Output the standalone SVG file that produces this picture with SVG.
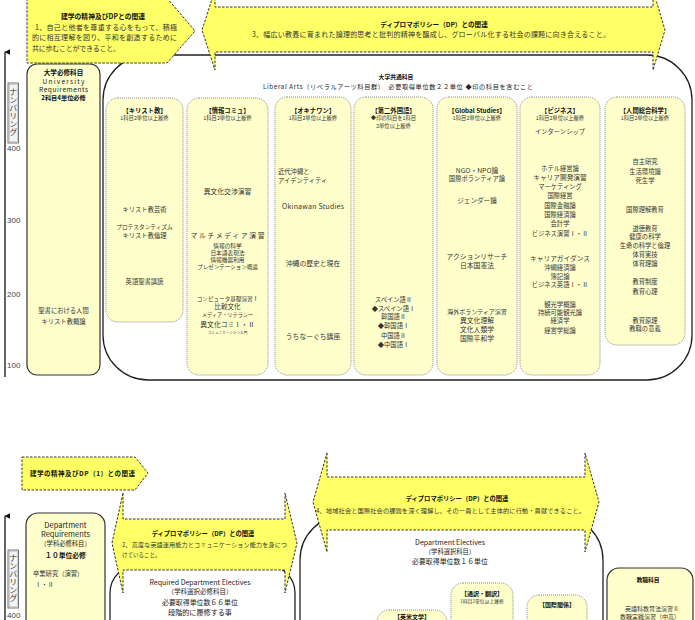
<svg xmlns="http://www.w3.org/2000/svg" width="695" height="620" viewBox="0 0 695 620">
<defs>
<style>
text{font-family:"Noto Sans CJK JP","Noto Sans",sans-serif;fill:#333;}
.c{text-anchor:middle;}
.b{font-weight:bold;fill:#111;}
.t{font-size:6.3px;}
.s{font-size:5.3px;}
.h{font-size:6.3px;font-weight:bold;fill:#111;}
.num{font-family:"Liberation Sans",Arial,sans-serif;font-size:8px;fill:#444;}
.arrow{fill:#FFFF66;stroke:#333;stroke-width:1;stroke-dasharray:2.5,1.5;}
.col{fill:#FFFFCC;stroke:#888;stroke-width:1;stroke-dasharray:1,1;}
.box{fill:#FFFFCC;stroke:#333;stroke-width:1.2;}
.cont{fill:none;stroke:#222;stroke-width:1.3;}
.axis{stroke:#111;stroke-width:1.3;fill:none;}
</style>
<marker id="ah" viewBox="0 0 10 10" refX="5" refY="1" markerWidth="6" markerHeight="6" orient="auto-start-reverse" markerUnits="userSpaceOnUse">
<path d="M0,10 L5,0 L10,10 Z" fill="#111"/>
</marker>
</defs>
<rect width="695" height="620" fill="#fff"/>

<!-- ===== TOP SECTION ===== -->
<g id="liberal-arts">
<rect class="cont" x="103" y="55" width="589" height="325" rx="45"/>
<text class="c b" x="396" y="79" style="font-size:5.8px">大学共通科目</text>
<text x="263" y="89" style="font-size:6.2px;fill:#222" textLength="270" lengthAdjust="spacing">Liberal Arts（リベラルアーツ科目群）　必要取得単位数２２単位 ◆印の科目を含むこと</text>
</g>

<g id="univ-req">
<rect class="box" x="27" y="64" width="73" height="311" rx="10"/>
<text class="c b" x="63.5" y="75" style="font-size:6.6px">大学必修科目</text>
<text class="c" x="63.5" y="83.5" style="font-size:6.6px;fill:#222" textLength="42" lengthAdjust="spacing">University</text>
<text class="c" x="63.5" y="91.5" style="font-size:6.6px;fill:#222" textLength="49" lengthAdjust="spacing">Requirements</text>
<text class="c b" x="63.5" y="99.5" style="font-size:6.2px">2科目4単位必修</text>
<text class="c t" x="63.5" y="312.5">聖書における人間</text>
<text class="c t" x="63.5" y="323.5">キリスト教概論</text>
</g>

<g id="col-christ">
<rect class="col" x="106" y="98" width="77" height="224" rx="12"/>
<text class="c h" x="144.5" y="112.5">【キリスト教】</text>
<text class="c s" x="144.5" y="120">1科目2単位以上履修</text>
<text class="c t" x="144.5" y="212">キリスト教芸術</text>
<text class="c" x="144.5" y="229" style="font-size:5.7px">プロテスタンティズム</text>
<text class="c t" x="144.5" y="237.5">キリスト教倫理</text>
<text class="c t" x="144.5" y="284">英語聖書講読</text>
</g>

<g id="col-info">
<rect class="col" x="187" y="98" width="81" height="277" rx="12"/>
<text class="c h" x="227.5" y="112.5">【情報コミュ】</text>
<text class="c s" x="227.5" y="120">1科目2単位以上履修</text>
<text class="c" x="227.5" y="193.5" style="font-size:6.8px">異文化交渉演習</text>
<text class="c" x="227.5" y="238" style="font-size:6.8px" textLength="74" lengthAdjust="spacing">マルチメディア演習</text>
<text class="c" x="227.5" y="247.5" style="font-size:5.7px">情報の科学</text>
<text class="c" x="227.5" y="254.7" style="font-size:5.7px">日本語表現法</text>
<text class="c" x="227.5" y="261.9" style="font-size:5.7px">情報機器利用</text>
<text class="c" x="227.5" y="269" style="font-size:5.5px">プレゼンテーション概論</text>
<text class="c" x="227.5" y="300.5" style="font-size:5.6px">コンピュータ基礎演習Ⅰ</text>
<text class="c" x="227.5" y="309" style="font-size:6.6px">比較文化</text>
<text class="c" x="227.5" y="317" style="font-size:5.2px">メディア・リテラシー</text>
<text class="c" x="227.5" y="326.5" style="font-size:6.8px">異文化コミⅠ・Ⅱ</text>
<text class="c" x="227.5" y="334" style="font-size:3.6px">コミュニケーション入門</text>
</g>

<g id="col-okinawa">
<rect class="col" x="275" y="97" width="76" height="278" rx="12"/>
<text class="c h" x="313" y="112.5">【オキナワン】</text>
<text class="c s" x="313" y="120">1科目2単位以上履修</text>
<text class="t" x="278" y="174">近代沖縄と</text>
<text class="t" x="278" y="183">アイデンティティ</text>
<text class="c" x="313" y="209" style="font-size:7px" textLength="62" lengthAdjust="spacing">Okinawan Studies</text>
<text class="c" x="313" y="266" style="font-size:6.8px">沖縄の歴史と現在</text>
<text class="c" x="313" y="339" style="font-size:6.8px">うちなーぐち講座</text>
</g>

<g id="col-lang">
<rect class="col" x="354" y="97" width="79" height="278" rx="12"/>
<text class="c h" x="393.5" y="112.5">【第二外国語】</text>
<text class="c s" x="393.5" y="120">◆印の科目を1科目</text>
<text class="c s" x="393.5" y="127.5">2単位以上履修</text>
<text class="c t" x="393.5" y="301.5">スペイン語Ⅱ</text>
<text class="c t" x="393.5" y="310.5">◆スペイン語Ⅰ</text>
<text class="c t" x="393.5" y="319">韓国語Ⅱ</text>
<text class="c t" x="393.5" y="328">◆韓国語Ⅰ</text>
<text class="c t" x="393.5" y="337.5">中国語Ⅱ</text>
<text class="c t" x="393.5" y="347">◆中国語Ⅰ</text>
</g>

<g id="col-global">
<rect class="col" x="437" y="97" width="80" height="278" rx="12"/>
<text class="c h" x="477" y="112.5">【Global Studies】</text>
<text class="c s" x="477" y="120">1科目2単位以上履修</text>
<text class="c" x="477" y="172.5" style="font-size:6.8px">NGO・NPO論</text>
<text class="c t" x="477" y="180.5">国際ボランティア論</text>
<text class="c" x="477" y="203" style="font-size:6.6px">ジェンダー論</text>
<text class="c" x="477" y="259" style="font-size:6.8px">アクションリサーチ</text>
<text class="c" x="477" y="267.5" style="font-size:6.8px">日本国憲法</text>
<text class="c" x="477" y="314" style="font-size:6px">海外ボランティア演習</text>
<text class="c" x="477" y="322.5" style="font-size:6.8px">異文化理解</text>
<text class="c" x="477" y="331.5" style="font-size:6.8px">文化人類学</text>
<text class="c" x="477" y="340.5" style="font-size:6.8px">国際平和学</text>
</g>

<g id="col-business">
<rect class="col" x="520" y="97" width="80" height="278" rx="12"/>
<text class="c h" x="560" y="112.5">【ビジネス】</text>
<text class="c s" x="560" y="120">1科目2単位以上履修</text>
<text class="c t" x="560" y="134">インターンシップ</text>
<text class="c t" x="560" y="170.5">ホテル経営論</text>
<text class="c" x="560" y="179.5" style="font-size:6.7px">キャリア開発演習</text>
<text class="c t" x="560" y="189">マーケティング</text>
<text class="c t" x="560" y="198">国際経営</text>
<text class="c t" x="560" y="207.5">国際金融論</text>
<text class="c t" x="560" y="216.5">国際経済論</text>
<text class="c t" x="560" y="225.5">会計学</text>
<text class="c t" x="560" y="235.5">ビジネス演習Ⅰ・Ⅱ</text>
<text class="c" x="560" y="260.5" style="font-size:6.7px">キャリアガイダンス</text>
<text class="c t" x="560" y="269.5">沖縄経済論</text>
<text class="c t" x="560" y="278.5">簿記論</text>
<text class="c t" x="560" y="286.5">ビジネス英語Ⅰ・Ⅱ</text>
<text class="c t" x="560" y="306.5">観光学概論</text>
<text class="c t" x="560" y="315">持続可能観光論</text>
<text class="c t" x="560" y="323">経済学</text>
<text class="c t" x="560" y="333">経営学総論</text>
</g>

<g id="col-human">
<rect class="col" x="605" y="97" width="80" height="248" rx="12"/>
<text class="c h" x="645" y="112.5">【人間総合科学】</text>
<text class="c s" x="645" y="120">1科目2単位以上履修</text>
<text class="c t" x="645" y="164">自主研究</text>
<text class="c t" x="645" y="174">生活環境論</text>
<text class="c t" x="645" y="183">死生学</text>
<text class="c t" x="645" y="211.5">国際理解教育</text>
<text class="c t" x="645" y="230.5">道徳教育</text>
<text class="c t" x="645" y="239">健康の科学</text>
<text class="c t" x="645" y="247.5">生命の科学と倫理</text>
<text class="c t" x="645" y="256.5">体育実技</text>
<text class="c t" x="645" y="265.5">体育理論</text>
<text class="c t" x="645" y="284">教育制度</text>
<text class="c t" x="645" y="294">教育心理</text>
<text class="c t" x="645" y="322.5">教育原理</text>
<text class="c t" x="645" y="330.5">教職の意義</text>
</g>

<g id="founding-dp1-top">
<polygon class="arrow" points="27,-2 167,-2 195,31 167,63 27,63"/>
<text class="c b" x="103" y="19" style="font-size:6.8px">建学の精神及びDPとの関連</text>
<text x="35" y="29.5" style="font-size:7px" textLength="142" lengthAdjust="spacing">1、自己と他者を尊重する心をもって、積極</text>
<text x="32" y="40" style="font-size:7px" textLength="145" lengthAdjust="spacing">的に相互理解を図り、平和を創造するために</text>
<text x="32" y="51" style="font-size:7px" textLength="88" lengthAdjust="spacing">共に歩むことができること。</text>
</g>

<g id="dp3">
<polygon class="arrow" points="215,-10 215,7 653,7 653,-10 665,30 653,70 653,52 215,52 215,70 202,30"/>
<text class="c b" x="434" y="27" style="font-size:6.6px">ディプロマポリシー（DP）との関連</text>
<text x="252" y="37" style="font-size:7px" textLength="358" lengthAdjust="spacing">3、幅広い教養に育まれた論理的思考と批判的精神を醸成し、グローバル化する社会の課題に向き合えること。</text>
</g>

<!-- ===== BOTTOM SECTION ===== -->
<g id="dept-electives">
<rect class="cont" x="300" y="515" width="303" height="160" rx="45"/>
<text class="c" x="450" y="544.5" style="font-size:7px;fill:#222">Department Electives</text>
<text class="c" x="450" y="553.5" style="font-size:6.3px;fill:#222">（学科選択科目）</text>
<text class="c" x="450" y="563.5" style="font-size:6.9px;fill:#222">必要取得単位数１６単位</text>
</g>

<g id="req-dept-electives">
<rect class="cont" x="110" y="565" width="185" height="110" rx="28"/>
<text class="c" x="200" y="584.5" style="font-size:7px;fill:#222">Required Department Electives</text>
<text class="c" x="200" y="593.5" style="font-size:6.5px;fill:#222">（学科選択必修科目）</text>
<text class="c" x="200" y="604.5" style="font-size:6.9px;fill:#222">必要取得単位数６６単位</text>
<text class="c" x="200" y="614.5" style="font-size:7.1px;fill:#222">段階的に履修する事</text>
</g>

<g id="dept-req">
<rect class="box" x="26" y="513" width="79" height="150" rx="12"/>
<text class="c" x="65.5" y="527.5" style="font-size:7.5px;fill:#222">Department</text>
<text class="c" x="65.5" y="536.5" style="font-size:7.5px;fill:#222">Requirements</text>
<text class="c" x="65.5" y="545.5" style="font-size:6.3px;fill:#222">（学科必修科目）</text>
<text class="c b" x="65.5" y="558" style="font-size:6.8px">１０単位必修</text>
<text x="33" y="575.5" style="font-size:6.3px">卒業研究（演習）</text>
<text x="35" y="586.5" style="font-size:6.3px">Ⅰ・Ⅱ</text>
</g>

<g id="col-literature">
<rect class="col" x="377" y="610" width="70" height="40" rx="12"/>
<text class="c h" x="412" y="618.5" style="font-size:6px">【英米文学】</text>
</g>

<g id="col-interpret">
<rect class="col" x="451" y="583" width="62" height="70" rx="12"/>
<text class="c h" x="482" y="595.5" style="font-size:6px">【通訳・翻訳】</text>
<text class="c" x="482" y="603" style="font-size:4.8px">1科目2単位以上履修</text>
</g>

<g id="col-intl">
<rect class="col" x="527" y="595" width="60" height="60" rx="12"/>
<text class="c h" x="557" y="606.5" style="font-size:6px">【国際関係】</text>
</g>

<g id="teaching">
<rect class="box" x="607" y="568" width="86" height="90" rx="12"/>
<text class="c b" x="648" y="582" style="font-size:5.8px">教職科目</text>
<text class="c" x="652" y="610.5" style="font-size:6px">英語科教育法演習Ⅱ</text>
<text class="c" x="650" y="618.5" style="font-size:6px">教職実践演習（中高）</text>
</g>

<g id="founding-dp1-bottom">
<polygon class="arrow" points="22,457 135,457 148,473 135,490 22,490"/>
<text class="b" x="30" y="476" style="font-size:6.5px" textLength="105" lengthAdjust="spacing">建学の精神及びDP（1）との関連</text>
</g>

<g id="dp4">
<polygon class="arrow" points="327,453 327,477 585,477 585,453 599,502 585,552 585,530 327,530 327,552 313,502"/>
<text class="c b" x="457" y="501" style="font-size:6.3px">ディプロマポリシー（DP）との関連</text>
<text x="316" y="513" style="font-size:6.2px" textLength="269" lengthAdjust="spacing">4、地域社会と国際社会の課題を深く理解し、その一員として主体的に行動・貢献できること。</text>
</g>

<g id="dp2">
<polygon class="arrow" points="123,493 123,519 285,519 285,493 297,543 285,593 285,570 123,570 123,593 112,543"/>
<text class="c b" x="203" y="536" style="font-size:6.3px">ディプロマポリシー（DP）との関連</text>
<text x="122" y="547" style="font-size:6.1px" textLength="165" lengthAdjust="spacing">2、高度な英語運用能力とコミュニケーション能力を身につ</text>
<text x="122" y="557" style="font-size:5.5px">けていること。</text>
</g>

<!-- ===== AXES ===== -->
<g id="connectors">
<line class="axis" x1="5" y1="377" x2="5" y2="52" marker-end="url(#ah)"/>
<line class="axis" x1="5" y1="622" x2="5" y2="516" marker-end="url(#ah)"/>
</g>

<g id="numbering-top">
<rect x="8" y="83" width="10.5" height="60" fill="#f4f4f4" stroke="#555" stroke-width="0.8"/>
<rect x="9.2" y="84.2" width="8.1" height="57.6" fill="none" stroke="#999" stroke-width="0.4"/>
<text x="13.3" y="88" style="font-size:8px;writing-mode:vertical-rl;fill:#333">ナンバリング</text>
<text class="num" x="7" y="150.5">400</text>
<text class="num" x="7" y="222.5">300</text>
<text class="num" x="7" y="296.5">200</text>
<text class="num" x="7" y="367.5">100</text>
</g>

<g id="numbering-bottom">
<rect x="8" y="550" width="10.5" height="58" fill="#f4f4f4" stroke="#555" stroke-width="0.8"/>
<rect x="9.2" y="551.2" width="8.1" height="55.6" fill="none" stroke="#999" stroke-width="0.4"/>
<text x="13.3" y="554" style="font-size:8px;writing-mode:vertical-rl;fill:#333">ナンバリング</text>
<text class="num" x="7" y="618">400</text>
</g>
</svg>
